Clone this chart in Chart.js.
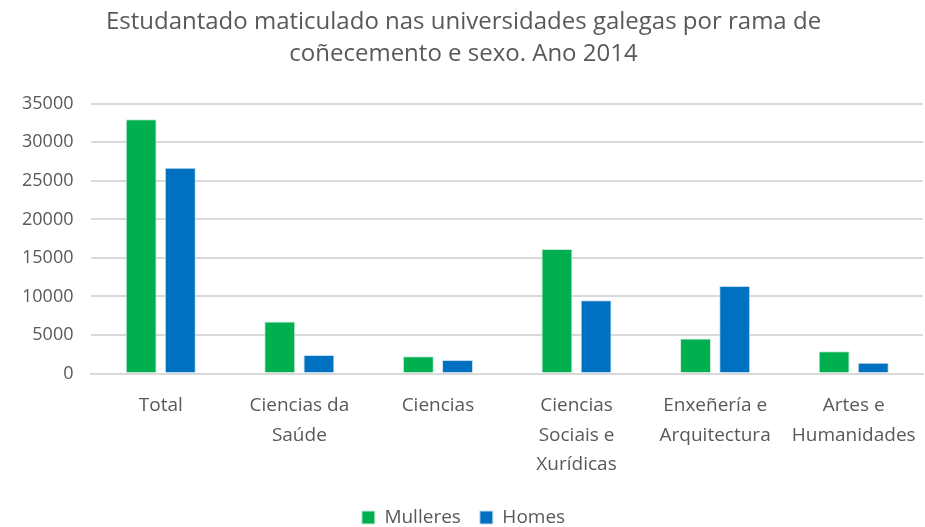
<!DOCTYPE html>
<html>
<head>
<meta charset="utf-8">
<script src="https://cdn.jsdelivr.net/npm/chart.js@4"></script>
<style>
  html, body { margin: 0; padding: 0; background: #fff; }
  #wrap { width: 925px; height: 527px; }
</style>
</head>
<body>
<div id="wrap"><canvas id="chart"></canvas></div>
<script>
// ── DATA ──────────────────────────────────────────────────────────────────────
const categories = [
  "Total",
  ["Ciencias da", "Saúde"],
  "Ciencias",
  ["Ciencias", "Sociais e", "Xurídicas"],
  ["Enxeñería e", "Arquitectura"],
  ["Artes e", "Humanidades"]
];
const mulleres = [33000, 6750, 2250, 16150, 4550, 2900];
const homes = [26700, 2400, 1750, 9500, 11350, 1400];
const yTicks = [0, 5000, 10000, 15000, 20000, 25000, 30000, 35000];

const textColor = "#595959";
const fontFamily = "'Open Sans', sans-serif";

// ── CHART ─────────────────────────────────────────────────────────────────────
new Chart(document.getElementById("chart"), {
  type: "bar",
  data: {
    labels: categories,
    datasets: [
      {
        label: "Mulleres",
        data: mulleres,
        backgroundColor: "#00b050",
        borderColor: "#c8ecd6",
        borderWidth: 1
      },
      {
        label: "Homes",
        data: homes,
        backgroundColor: "#0070c0",
        borderColor: "#c4dcef",
        borderWidth: 1
      }
    ]
  },
  options: {
    responsive: true,
    maintainAspectRatio: false,
    animation: false,
    categoryPercentage: 0.565,
    barPercentage: 0.79,
    layout: { padding: { left: 4, right: 2, top: 6, bottom: -10 } },
    plugins: {
      title: {
        display: true,
        text: [
          "Estudantado maticulado nas universidades galegas por rama de",
          "coñecemento e sexo. Ano 2014"
        ],
        color: textColor,
        font: { family: fontFamily, size: 24, weight: "normal", lineHeight: 1.35 },
        padding: { top: 0, bottom: 33 }
      },
      legend: {
        position: "bottom",
        labels: {
          color: textColor,
          font: { family: fontFamily, size: 19 },
          boxWidth: 13,
          boxHeight: 13,
          padding: 19
        }
      },
      tooltip: { enabled: false }
    },
    scales: {
      x: {
        grid: { display: false },
        border: { color: "#d9d9d9", width: 2 },
        ticks: {
          color: textColor,
          font: { family: fontFamily, size: 19, lineHeight: 1.57 },
          maxRotation: 0,
          autoSkip: false,
          padding: 9
        }
      },
      y: {
        min: 0,
        max: 35000,
        afterBuildTicks: axis => {
          axis.ticks = yTicks.map(value => ({ value }));
        },
        grid: { color: "#d9d9d9", lineWidth: 2, drawTicks: false },
        border: { display: false },
        ticks: {
          color: textColor,
          font: { family: fontFamily, size: 18 },
          padding: 18,
          callback: value => String(value)
        }
      }
    }
  }
});
</script>
</body>
</html>
